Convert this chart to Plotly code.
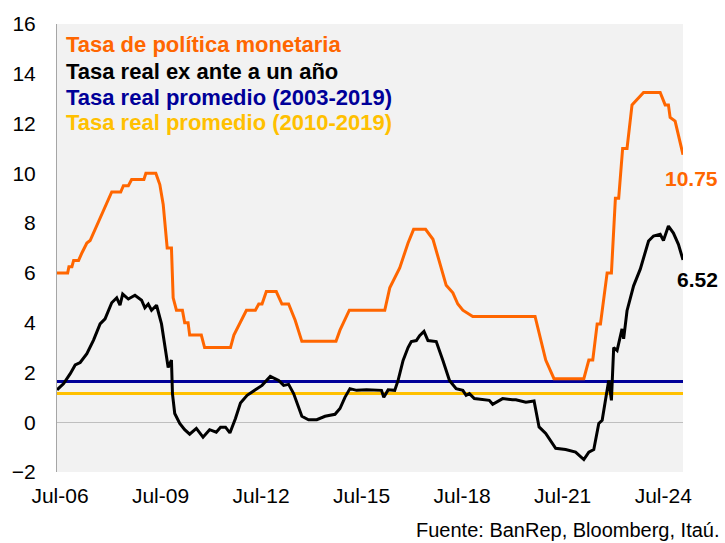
import plotly.graph_objects as go

# Time expressed as decimal years (chart scale)
policy_t = [2006.411, 2006.729, 2006.767, 2006.856, 2006.907, 2007.055, 2007.153, 2007.302,
            2007.400, 2007.599, 2007.798, 2008.044, 2008.312, 2008.392, 2008.540, 2008.638,
            2009.004, 2009.063, 2009.360, 2009.479, 2009.580, 2009.699, 2009.826, 2009.877,
            2009.975, 2010.153, 2010.221, 2010.322, 2010.370, 2010.717, 2010.815, 2011.588,
            2011.689, 2012.063, 2012.330, 2012.431, 2012.529, 2012.657, 2012.954, 2013.123,
            2013.322, 2013.518, 2013.717, 2014.736, 2014.855, 2015.134, 2016.191, 2016.340,
            2016.637, 2016.886, 2017.052, 2017.409, 2017.629, 2018.024, 2018.223, 2018.371,
            2018.520, 2018.816, 2020.676, 2020.795, 2020.994, 2021.240, 2022.131, 2022.280,
            2022.398, 2022.529, 2022.627, 2022.826, 2022.954, 2023.073, 2023.171, 2023.289,
            2023.420, 2023.569, 2023.717, 2023.866, 2023.913, 2024.409, 2024.558, 2024.655,
            2024.706, 2024.855, 2025.090]
policy_v = [6.00, 6.00, 6.25, 6.25, 6.50, 6.50, 6.80, 7.20,
            7.30, 7.90, 8.50, 9.25, 9.25, 9.50, 9.50, 9.75,
            9.75, 10.00, 10.00, 9.55, 8.75, 7.00, 7.00, 5.00,
            4.50, 4.50, 4.00, 4.00, 3.50, 3.50, 3.00, 3.00,
            3.50, 4.50, 4.50, 4.75, 4.75, 5.25, 5.25, 4.75,
            4.75, 4.10, 3.25, 3.25, 3.70, 4.50, 4.50, 5.40,
            6.20, 7.20, 7.75, 7.75, 7.35, 5.50, 5.20, 4.75,
            4.50, 4.25, 4.25, 3.55, 2.50, 1.75, 1.75, 2.50,
            2.50, 3.95, 3.95, 6.00, 6.00, 9.00, 9.00, 11.00,
            11.00, 12.75, 12.95, 13.15, 13.25, 13.25, 12.75, 12.75,
            12.25, 12.10, 10.75]

real_t = [2006.411, 2006.610, 2006.806, 2006.954, 2007.103, 2007.302, 2007.501, 2007.697,
          2007.845, 2008.044, 2008.193, 2008.291, 2008.371, 2008.540, 2008.736, 2008.935,
          2009.033, 2009.134, 2009.232, 2009.381, 2009.529, 2009.627, 2009.728, 2009.826,
          2009.856, 2009.924, 2010.073, 2010.221, 2010.370, 2010.569, 2010.768, 2010.964,
          2011.163, 2011.291, 2011.439, 2011.570, 2011.736, 2011.885, 2012.084, 2012.330,
          2012.529, 2012.776, 2013.025, 2013.174, 2013.322, 2013.471, 2013.619, 2013.717,
          2013.916, 2014.163, 2014.409, 2014.706, 2014.855, 2015.003, 2015.152, 2015.351,
          2015.648, 2016.093, 2016.161, 2016.292, 2016.488, 2016.589, 2016.738, 2016.886,
          2016.984, 2017.133, 2017.231, 2017.361, 2017.480, 2017.727, 2017.926, 2018.122,
          2018.321, 2018.520, 2018.618, 2018.716, 2018.864, 2019.114, 2019.310, 2019.411,
          2019.708, 2020.004, 2020.103, 2020.400, 2020.646, 2020.795, 2020.994, 2021.291,
          2021.588, 2021.885, 2022.131, 2022.280, 2022.428, 2022.577, 2022.678, 2022.776,
          2022.874, 2022.954, 2023.022, 2023.123, 2023.271, 2023.319, 2023.420, 2023.616,
          2023.815, 2024.062, 2024.210, 2024.409, 2024.507, 2024.655, 2024.804, 2024.953,
          2025.090]
real_v = [1.30, 1.55, 1.95, 2.30, 2.40, 2.75, 3.30, 3.95,
          4.15, 4.80, 5.00, 4.70, 5.15, 4.95, 5.10, 4.90,
          4.60, 4.75, 4.50, 4.70, 3.95, 3.00, 2.20, 2.50,
          1.15, 0.35, -0.05, -0.30, -0.48, -0.25, -0.60, -0.30,
          -0.40, -0.20, -0.20, -0.43, 0.15, 0.77, 1.08, 1.30,
          1.48, 1.84, 1.68, 1.48, 1.52, 1.15, 0.60, 0.24,
          0.10, 0.10, 0.24, 0.32, 0.55, 1.00, 1.35, 1.28,
          1.30, 1.28, 1.00, 1.30, 1.28, 1.68, 2.48, 3.00,
          3.24, 3.28, 3.48, 3.65, 3.28, 3.24, 2.48, 1.68,
          1.35, 1.28, 1.08, 1.15, 0.95, 0.90, 0.88, 0.72,
          0.95, 0.90, 0.90, 0.80, 0.85, -0.19, -0.45, -1.05,
          -1.10, -1.20, -1.50, -1.20, -1.10, -0.05, 0.08, 0.88,
          1.68, 0.88, 3.00, 2.88, 3.75, 3.35, 4.48, 5.48,
          6.15, 7.28, 7.48, 7.55, 7.30, 7.88, 7.60, 7.15,
          6.52]

avg_2003_2019 = 1.64
avg_2010_2019 = 1.15

tick_vals = [2006.5, 2009.5, 2012.5, 2015.5, 2018.5, 2021.5, 2024.5]
tick_text = ["Jul-06", "Jul-09", "Jul-12", "Jul-15", "Jul-18", "Jul-21", "Jul-24"]

series_names = ["Tasa de política monetaria", "Tasa real ex ante a un año",
                "Tasa real promedio (2003-2019)", "Tasa real promedio (2010-2019)"]
colors = ["#FF6600", "#000000", "#000099", "#FFC000"]

FONT = "Liberation Sans, Arial, sans-serif"
t0, t1 = policy_t[0], policy_t[-1]

fig = go.Figure()
fig.add_trace(go.Scatter(x=[t0, t1], y=[avg_2003_2019, avg_2003_2019], mode="lines",
                         line=dict(color=colors[2], width=3), name=series_names[2]))
fig.add_trace(go.Scatter(x=[t0, t1], y=[avg_2010_2019, avg_2010_2019], mode="lines",
                         line=dict(color=colors[3], width=3), name=series_names[3]))
fig.add_trace(go.Scatter(x=policy_t, y=policy_v, mode="lines",
                         line=dict(color=colors[0], width=3), name=series_names[0]))
fig.add_trace(go.Scatter(x=real_t, y=real_v, mode="lines",
                         line=dict(color=colors[1], width=3), name=series_names[1]))

legend_y = [0.955, 0.895, 0.837, 0.780]
for name, col, yy in zip(series_names, colors, legend_y):
    fig.add_annotation(xref="paper", yref="paper", x=0.011, y=yy, xanchor="left",
                       yanchor="middle", text=f"<b>{name}</b>", showarrow=False,
                       font=dict(family=FONT, size=22, color=col))

fig.add_annotation(x=policy_t[-1], y=policy_v[-1], text=f"<b>{policy_v[-1]:.2f}</b>",
                   showarrow=False, xanchor="left", yanchor="middle", xshift=-20, yshift=-24,
                   font=dict(family=FONT, size=21, color=colors[0]))
fig.add_annotation(x=real_t[-1], y=real_v[-1], text=f"<b>{real_v[-1]:.2f}</b>",
                   showarrow=False, xanchor="left", yanchor="middle", xshift=-8, yshift=-20,
                   font=dict(family=FONT, size=21, color=colors[1]))

fig.add_annotation(xref="paper", yref="paper", x=1.062, y=-0.129, xanchor="right",
                   yanchor="middle", text="Fuente: BanRep, Bloomberg, Itaú.", showarrow=False,
                   font=dict(family=FONT, size=20, color="#000000"))

fig.update_layout(
    width=725, height=543,
    margin=dict(l=54, r=42, t=22, b=71),
    paper_bgcolor="#FFFFFF", plot_bgcolor="#F2F2F2",
    showlegend=False,
    font=dict(family=FONT, size=21, color="#000000"),
)
fig.update_xaxes(range=[t0, t1], tickvals=tick_vals, ticktext=tick_text, showgrid=False,
                 zeroline=False, showline=False, ticks="", ticklabelstandoff=9,
                 tickfont=dict(family=FONT, size=21, color="#000000"))
fig.update_yaxes(range=[-2, 16], dtick=2, showgrid=False, zeroline=True,
                 zerolinecolor="#BFBFBF", zerolinewidth=1, showline=True,
                 linecolor="#A6A6A6", linewidth=1, ticks="", ticklabelstandoff=16,
                 tickfont=dict(family=FONT, size=21, color="#000000"))

fig.write_html("out.html", config={"displayModeBar": False},
               post_script="document.body.style.margin='0';")
